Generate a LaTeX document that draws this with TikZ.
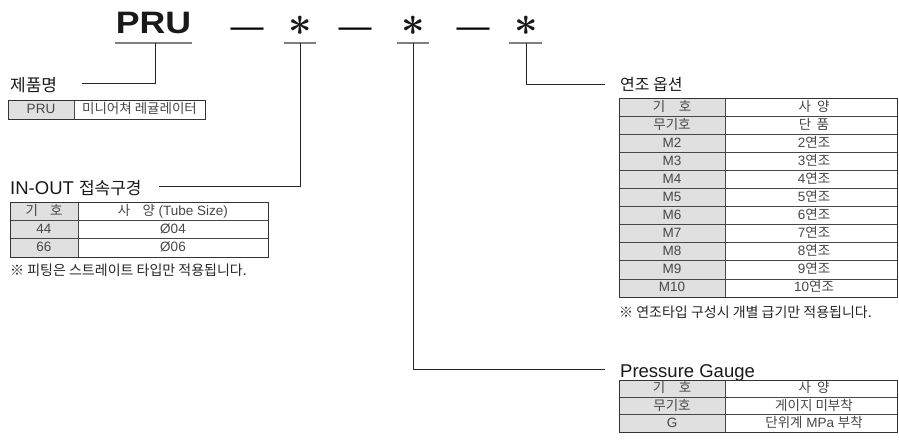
\documentclass[tikz,border=0pt]{standalone}
\usepackage{graphicx}
\usepackage{fontspec}
\setmainfont{Liberation Sans}
\newfontfamily\kr{Noto Sans CJK KR}
\tikzset{
  lbl/.style={anchor=base west, inner sep=0pt, font=\fontsize{18.5}{18.5}\selectfont, text=black!90},
  cell/.style={inner sep=0pt, text height=0.8em, text depth=0pt, font=\fontsize{13.5}{13.5}\selectfont, text=black!72},
  lead/.style={draw=black!85, line width=0.8pt},
  uline/.style={draw=black!50, line width=1.2pt},
  tabline/.style={draw=black!72, line width=0.7pt},
  tabframe/.style={draw=black!80, line width=1pt},
  keyfill/.style={fill=black!12},
  note/.style={anchor=west, inner sep=0pt, font=\fontsize{14}{14}\selectfont, text=black!85},
  code/.style={inner sep=0pt},
  dashmark/.style={inner sep=0pt, font=\fontsize{33}{33}\selectfont},
  astmark/.style={inner sep=0pt, font=\fontsize{24.88}{24.88}\selectfont\boldmath, text=black!90},
}
\newcommand{\bigast}{\scalebox{1.65}{$\ast$}}
\begin{document}
\begin{tikzpicture}[x=1pt,y=-1pt]
\useasboundingbox (0,0) rectangle (899,442);
% ---------- header code ----------
\node[code, font=\fontsize{31}{31}\selectfont\bfseries, text=black!90, xscale=1.15] (pru) at (153.5,23) {PRU};
\node[dashmark] (d1) at (247,32.5) {—};
\node[dashmark] (d2) at (355,32.5) {—};
\node[dashmark] (d3) at (473,32.5) {—};
\node[astmark] (s1) at (300,26) {\bigast};
\node[astmark] (s2) at (413,26) {\bigast};
\node[astmark] (s3) at (526,26) {\bigast};
% underlines
\coordinate (u0) at (155,43); \draw[uline] (115,43) -- (192,43);
\coordinate (u1) at (300,43); \draw[uline] (284,43) -- (316,43);
\coordinate (u2) at (413,43); \draw[uline] (397,43) -- (429,43);
\coordinate (u3) at (526,43); \draw[uline] (509,43) -- (542,43);
% ---------- labels ----------
\node[lbl] (l0) at (10,91) {\fontsize{17}{17}\selectfont\kr 제품명};
\node[lbl] (l1) at (10,194) {IN-OUT {\fontsize{17}{17}\selectfont\kr 접속구경}};
\node[lbl] (l3) at (620,90) {\fontsize{16}{16}\selectfont\kr 연조 옵션};
\node[lbl] (l2) at (620,377) {Pressure Gauge};
% leaders
\draw[lead] (u0) |- (82,83);
\draw[lead] (u1) |- (159,186);
\draw[lead] (u3) |- (605,84);
\draw[lead] (u2) |- (605,369);
% ---------- table: product name ----------
\fill[keyfill] (8,100) rectangle (74,119);
\draw[tabline] (74,100) -- (74,119);
\draw[tabframe] (8,100) rectangle (205,119);
\node[cell] (p-k) at (41,109.5) {PRU};
\node[cell] (p-v) at (139.5,109.5) {\kr 미니어쳐 레귤레이터};
% ---------- table: IN-OUT ----------
\fill[keyfill] (10,202) rectangle (78,257);
\foreach \r in {1,2} \draw[tabline] (10,{202+\r*18.33}) -- (268,{202+\r*18.33});
\draw[tabline] (78,202) -- (78,257);
\draw[tabframe] (10,202) rectangle (268,257);
\foreach [count=\i] \k/\v in {{\kr 기\hspace{0.9em}호}/{{\kr 사\hspace{0.9em}양} (Tube Size)},44/Ø04,66/Ø06} {
  \node[cell] (a-\i-k) at (44,{202+(\i-0.5)*18.33}) {\k};
  \node[cell] (a-\i-v) at (173,{202+(\i-0.5)*18.33}) {\v};
}
\node[note] (n1) at (10,270) {\kr ※ 피팅은 스트레이트 타입만 적용됩니다.};
% ---------- table: 연조 ----------
\fill[keyfill] (619,98) rectangle (725,297);
\foreach \r in {1,...,10} \draw[tabline] (619,{98+\r*18.09}) -- (897,{98+\r*18.09});
\draw[tabline] (725,98) -- (725,297);
\draw[tabframe] (619,98) rectangle (897,297);
\foreach [count=\i] \k/\v in {{\kr 기\hspace{1em}호}/{\kr 사\hspace{0.45em}양},{\kr 무기호}/{\kr 단\hspace{0.4em}품},M2/2{\kr 연조},M3/3{\kr 연조},M4/4{\kr 연조},M5/5{\kr 연조},M6/6{\kr 연조},M7/7{\kr 연조},M8/8{\kr 연조},M9/9{\kr 연조},M10/10{\kr 연조}} {
  \node[cell] (b-\i-k) at (672,{98+(\i-0.5)*18.09}) {\k};
  \node[cell] (b-\i-v) at (814,{98+(\i-0.5)*18.09}) {\v};
}
\node[note] (n2) at (619,312) {\kr ※ 연조타입 구성시 개별 급기만 적용됩니다.};
% ---------- table: Pressure Gauge ----------
\fill[keyfill] (619,380) rectangle (725,432);
\foreach \r in {1,2} \draw[tabline] (619,{380+\r*17.33}) -- (897,{380+\r*17.33});
\draw[tabline] (725,380) -- (725,432);
\draw[tabframe] (619,380) rectangle (897,432);
\foreach [count=\i] \k/\v in {{\kr 기\hspace{1em}호}/{\kr 사\hspace{0.45em}양},{\kr 무기호}/{\kr 게이지 미부착},G/{{\kr 단위계} MPa {\kr 부착}}} {
  \node[cell] (c-\i-k) at (672,{380+(\i-0.5)*17.33}) {\k};
  \node[cell] (c-\i-v) at (814,{380+(\i-0.5)*17.33}) {\v};
}
\end{tikzpicture}
\end{document}
